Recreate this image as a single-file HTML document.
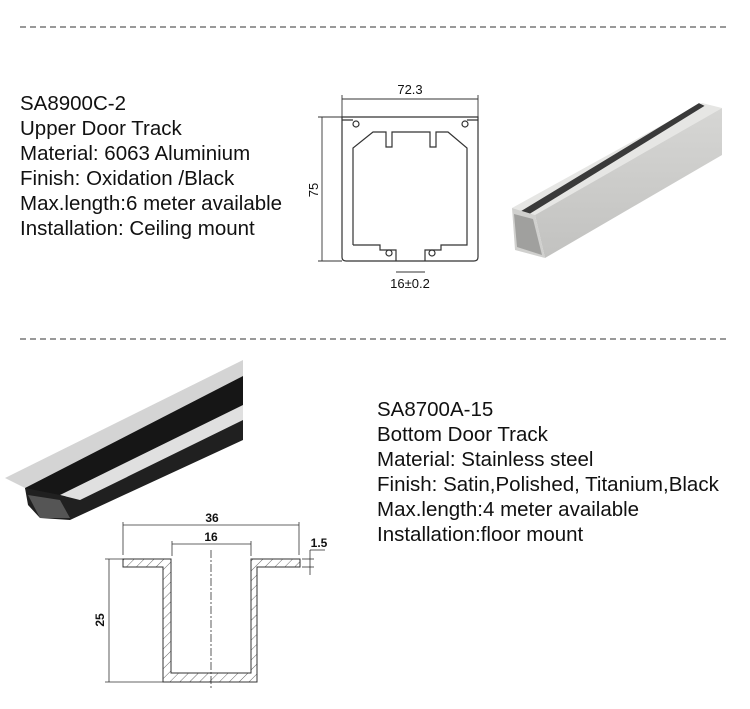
<!DOCTYPE html>
<html><head><meta charset="utf-8"><style>
html,body{margin:0;padding:0;background:#fff;}
svg{display:block;}
text{font-family:"Liberation Sans",Arial,sans-serif;fill:#111;}
</style></head><body>
<svg width="750" height="709" viewBox="0 0 750 709" xmlns="http://www.w3.org/2000/svg">
<defs>
<pattern id="h" width="7" height="7" patternUnits="userSpaceOnUse" patternTransform="rotate(45)">
<rect width="7" height="7" fill="#fff"/><line x1="0" y1="0" x2="0" y2="7" stroke="#444" stroke-width="0.8"/>
</pattern>
<linearGradient id="alu" x1="0" y1="0" x2="0" y2="1"><stop offset="0" stop-color="#d6d6d4"/><stop offset="1" stop-color="#c2c2c0"/></linearGradient>
</defs>
<line x1="20" y1="27" x2="730" y2="27" stroke="#333" stroke-dasharray="6,4"/>
<line x1="20" y1="339" x2="730" y2="339" stroke="#333" stroke-dasharray="6,4"/>

<g font-size="20.5">
<text x="20" y="110">SA8900C-2</text>
<text x="20" y="135">Upper Door Track</text>
<text x="20" y="160">Material: 6063 Aluminium</text>
<text x="20" y="185">Finish: Oxidation /Black</text>
<text x="20" y="210">Max.length:6 meter available</text>
<text x="20" y="235">Installation: Ceiling mount</text>
<text x="377" y="416">SA8700A-15</text>
<text x="377" y="441">Bottom Door Track</text>
<text x="377" y="466">Material: Stainless steel</text>
<text x="377" y="491">Finish: Satin,Polished, Titanium,Black</text>
<text x="377" y="516">Max.length:4 meter available</text>
<text x="377" y="541">Installation:floor mount</text>
</g>

<!-- upper profile drawing -->
<g stroke="#333" stroke-width="1.2" fill="none">
<line x1="342" y1="99" x2="478" y2="99" stroke-width="0.9"/>
<line x1="342" y1="95" x2="342" y2="117" stroke-width="0.9"/><line x1="478" y1="95" x2="478" y2="117" stroke-width="0.9"/>
<line x1="322" y1="117" x2="322" y2="261" stroke-width="0.9"/>
<line x1="318" y1="117" x2="342" y2="117" stroke-width="0.9"/><line x1="318" y1="261" x2="342" y2="261" stroke-width="0.9"/>
<line x1="396" y1="272" x2="425" y2="272" stroke-width="0.9"/>
<path d="M342,117 H478 V257 Q478,261 474,261 H346 Q342,261 342,257 Z"/>
<path d="M353,245 V148 L373,132 H386 V147 H392 V132 H430 V147 H436 V132 H448 L467,148 V245 H441 V250 H425 V261"/>
<path d="M353,245 H380 V250 H396 V261"/>
<path d="M342,120 H353 M467,120 H478"/>
<circle cx="356" cy="124" r="3"/><circle cx="465" cy="124" r="3"/>
<circle cx="389" cy="253" r="3"/><circle cx="432" cy="253" r="3"/>
</g>
<g font-size="13" text-anchor="middle">
<text x="410" y="94">72.3</text>
<text x="410" y="288">16±0.2</text>
<text transform="translate(318,190) rotate(-90)">75</text>
</g>

<!-- aluminium 3D -->
<g>
<polygon points="512,208 702,103 722,108 535,215" fill="#e6e6e4"/>
<polygon points="521,212 699,104 703,106 528,214" fill="#3a3a3a" stroke="#3a3a3a" stroke-width="1.5"/>
<polygon points="535,215 722,108 722,155 545,258" fill="url(#alu)"/>
<polygon points="512,208 535,215 545,258 515,250" fill="#d0d0ce"/>
<polygon points="514,214 533,219 542,255 517,247" fill="#a0a09e"/>
</g>

<!-- stainless 3D -->
<g>
<polygon points="5,478 243,360 243,376 25,488" fill="#d4d4d4"/>
<polygon points="25,488 243,376 243,410 62,498 28,498" fill="#161616"/>
<polygon points="60,495 243,405 243,420 80,500" fill="#e0e0e0"/>
<polygon points="25,488 60,495 80,500 243,420 243,440 70,520 40,518 28,505" fill="#202020"/>
<polygon points="28,495 60,500 70,518 40,518" fill="#555"/>
</g>

<!-- bottom profile drawing -->
<g stroke="#333" stroke-width="1">
<path d="M123,559 H171 V673 H251 V559 H300 V567 H257 V682 H163 V567 H123 Z" fill="url(#h)"/>
<g fill="none" stroke-width="0.8">
<line x1="123" y1="525" x2="299" y2="525"/>
<line x1="123" y1="522" x2="123" y2="555"/><line x1="299" y1="522" x2="299" y2="555"/>
<line x1="172" y1="544" x2="251" y2="544"/>
<line x1="172" y1="541" x2="172" y2="556"/><line x1="251" y1="541" x2="251" y2="556"/>
<line x1="211" y1="550" x2="211" y2="690" stroke-dasharray="8,2,2,2"/>
<line x1="109" y1="559" x2="109" y2="682"/>
<line x1="105" y1="559" x2="123" y2="559"/><line x1="105" y1="682" x2="163" y2="682"/>
<line x1="310" y1="550" x2="310" y2="575"/>
<line x1="302" y1="559" x2="314" y2="559"/><line x1="302" y1="567" x2="314" y2="567"/>
<line x1="310" y1="550" x2="325" y2="550"/>
</g>
</g>
<g font-size="12" font-weight="bold" text-anchor="middle">
<text x="212" y="522">36</text>
<text x="211" y="541">16</text>
<text x="319" y="547">1.5</text>
<text transform="translate(104,620) rotate(-90)">25</text>
</g>
</svg>
</body></html>
